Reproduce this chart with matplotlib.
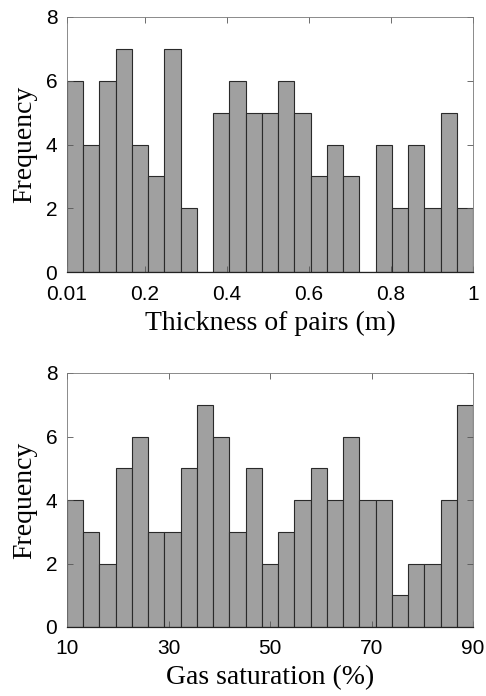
import numpy as np
import matplotlib.pyplot as plt

# histogram counts (25 bins each)
thick_counts = [6, 4, 6, 7, 4, 3, 7, 2, 0, 5, 6, 5, 5, 6, 5, 3, 4, 3, 0, 4, 2, 4, 2, 5, 2]
thick_range = (0.01, 1.0)
thick_ticks = [0.01, 0.2, 0.4, 0.6, 0.8, 1]
thick_ticklabels = ['0.01', '0.2', '0.4', '0.6', '0.8', '1']

gas_counts = [4, 3, 2, 5, 6, 3, 3, 5, 7, 6, 3, 5, 2, 3, 4, 5, 4, 6, 4, 4, 1, 2, 2, 4, 7]
gas_range = (10, 90)
gas_ticks = [10, 30, 50, 70, 90]
gas_ticklabels = ['10', '30', '50', '70', '90']

y_ticks = [0, 2, 4, 6, 8]

fig = plt.figure(figsize=(4.86, 6.96), dpi=100)
ax1 = fig.add_axes([67 / 486, 1 - 272 / 696, 406 / 486, 255 / 696])
ax2 = fig.add_axes([67 / 486, 1 - 627 / 696, 406 / 486, 254 / 696])


def draw_hist(ax, counts, rng, ticks, ticklabels, xlabel):
    edges = np.linspace(rng[0], rng[1], len(counts) + 1)
    ax.bar(edges[:-1], counts, width=np.diff(edges), align='edge',
           color='#a0a0a0', edgecolor='#2a2a2a', linewidth=0.8)
    ax.set_xlim(rng)
    ax.set_ylim(0, 8)
    ax.set_xticks(ticks)
    ax.set_xticklabels(ticklabels, family='Liberation Sans', fontsize=15)
    ax.set_yticks(y_ticks)
    ax.set_yticklabels([str(v) for v in y_ticks], family='Liberation Sans', fontsize=15)
    ax.tick_params(direction='in', top=True, right=True, length=4, width=0.6,
                   color='#555555')
    ax.tick_params(axis='x', pad=9)
    ax.tick_params(axis='y', pad=7)
    for s in ax.spines.values():
        s.set_linewidth(0.6)
        s.set_color('#777777')
    ax.spines['bottom'].set_color('#222222')
    ax.spines['bottom'].set_linewidth(0.9)
    ax.set_xlabel(xlabel, family='Liberation Serif', fontsize=20, labelpad=5)
    ax.set_ylabel('Frequency', family='Liberation Serif', fontsize=20, labelpad=6)


draw_hist(ax1, thick_counts, thick_range, thick_ticks, thick_ticklabels,
          'Thickness of pairs (m)')
draw_hist(ax2, gas_counts, gas_range, gas_ticks, gas_ticklabels,
          'Gas saturation (%)')

fig.savefig('out.png', dpi=100)
